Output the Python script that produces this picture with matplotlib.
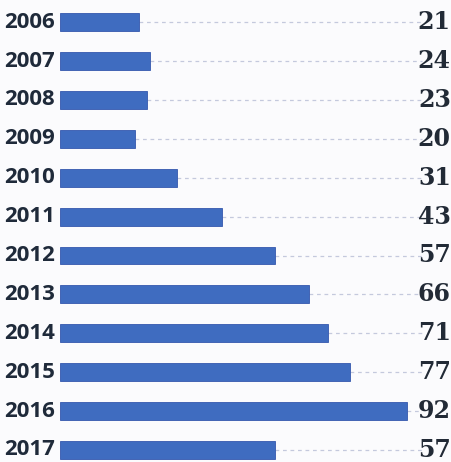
import matplotlib.pyplot as plt

# Yearly counts
years = ["2006", "2007", "2008", "2009", "2010", "2011",
         "2012", "2013", "2014", "2015", "2016", "2017"]
counts = [21, 24, 23, 20, 31, 43, 57, 66, 71, 77, 92, 57]

fig = plt.figure(figsize=(4.52, 4.62), dpi=100)
fig.patch.set_facecolor("#fbfbfd")
ax = fig.add_axes([60 / 452, 0, 392 / 452, 1])
ax.set_facecolor("#fbfbfd")

rows = list(range(len(years)))
ax.barh(rows, counts, height=0.46, color="#3f6cc0", edgecolor="#3558ad", linewidth=0.6)

# dotted leader lines from bar end to the value
for y, v in zip(rows, counts):
    ax.plot([v, 96], [y, y], color="#c4c9dd", linestyle=(0, (3, 3)), linewidth=0.9, zorder=0)
    ax.text(103.7, y, str(v), ha="right", va="center", fontsize=17,
            fontweight="bold", family="DejaVu Serif", color="#222a36")
    ax.text(-1.3, y, years[y], ha="right", va="center", fontsize=16,
            fontweight="bold", family="Open Sans", color="#1f2a3a")

ax.set_xlim(0, 104)
ax.set_ylim(11.31, -0.57)
ax.axis("off")

fig.savefig("out.png", dpi=100, facecolor=fig.get_facecolor())
